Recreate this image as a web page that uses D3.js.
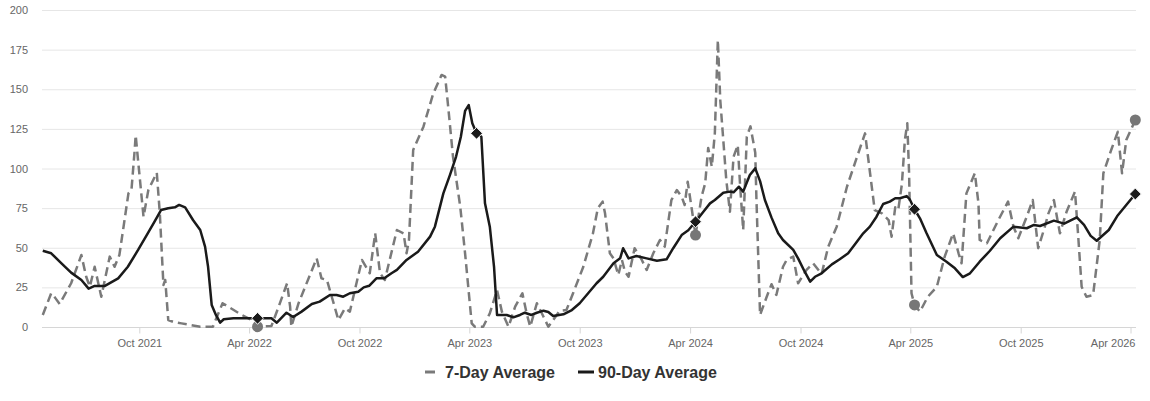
<!DOCTYPE html>
<html>
<head>
<meta charset="utf-8">
<script src="https://cdn.jsdelivr.net/npm/d3@7/dist/d3.min.js"></script>
<style>
  html, body { margin: 0; padding: 0; background: #fff; }
  svg { display: block; font-family: "Liberation Sans", Arial, Helvetica, sans-serif; }
</style>
</head>
<body>
<svg id="chart" width="1150" height="401"></svg>
<script>
// ---------------- DATA ----------------
const seriesNames = ["7-Day Average", "90-Day Average"];

const dates7 = [
  "2021-04-24","2021-05-08","2021-05-14","2021-05-22","2021-06-10","2021-06-27","2021-07-05","2021-07-11",
  "2021-07-19","2021-07-30","2021-08-13","2021-08-21","2021-08-29","2021-09-13","2021-09-18","2021-09-23",
  "2021-09-25","2021-09-29","2021-10-08","2021-10-16","2021-10-30","2021-11-04","2021-11-10","2021-11-13",
  "2021-11-18","2021-11-26","2021-12-10","2022-01-10","2022-01-31","2022-02-16","2022-03-20","2022-04-11",
  "2022-04-15","2022-05-08","2022-05-19","2022-06-03","2022-06-08","2022-06-10","2022-06-22","2022-07-22",
  "2022-07-30","2022-08-08","2022-08-16","2022-08-27","2022-09-07","2022-09-15","2022-10-05","2022-10-18",
  "2022-10-27","2022-11-04","2022-11-12","2022-12-02","2022-12-13","2022-12-18","2022-12-22","2022-12-29",
  "2023-01-15","2023-01-31","2023-02-14","2023-02-20","2023-02-25","2023-03-05","2023-03-17","2023-03-25",
  "2023-04-05","2023-04-10","2023-04-24","2023-05-05","2023-05-17","2023-05-25","2023-06-05","2023-06-16",
  "2023-06-28","2023-07-05","2023-07-11","2023-07-22","2023-08-02","2023-08-10","2023-08-18","2023-08-29",
  "2023-09-09","2023-09-20","2023-10-07","2023-10-23","2023-10-31","2023-11-08","2023-11-12","2023-11-20",
  "2023-11-26","2023-12-04","2023-12-10","2023-12-15","2023-12-21","2023-12-31","2024-01-12","2024-01-20",
  "2024-01-31","2024-02-11","2024-02-19","2024-03-01","2024-03-10","2024-03-18","2024-03-23","2024-03-28",
  "2024-04-04","2024-04-10","2024-04-20","2024-04-26","2024-05-01","2024-05-07","2024-05-12","2024-05-17",
  "2024-05-21","2024-05-26","2024-05-31","2024-06-06","2024-06-12","2024-06-19","2024-06-23","2024-06-28",
  "2024-07-04","2024-07-10","2024-07-18","2024-07-20","2024-07-26","2024-08-06","2024-08-14","2024-08-22",
  "2024-09-02","2024-09-08","2024-09-19","2024-09-27","2024-10-11","2024-10-22","2024-11-05","2024-11-16",
  "2024-11-30","2024-12-17","2025-01-01","2025-01-16","2025-02-01","2025-02-13","2025-02-24","2025-03-01",
  "2025-03-07","2025-03-12","2025-03-18","2025-03-23","2025-03-27","2025-03-30","2025-04-03","2025-04-08",
  "2025-04-17","2025-04-30","2025-05-15","2025-05-28","2025-06-11","2025-06-20","2025-06-25","2025-07-03",
  "2025-07-17","2025-07-23","2025-07-25","2025-08-06","2025-08-25","2025-09-10","2025-09-19","2025-09-27",
  "2025-10-11","2025-10-21","2025-10-30","2025-11-10","2025-11-16","2025-11-25","2025-12-05","2025-12-16",
  "2025-12-30","2026-01-04","2026-01-10","2026-01-18","2026-01-29","2026-02-09","2026-02-15","2026-02-28",
  "2026-03-11","2026-03-18","2026-03-25","2026-04-09"
];
const values7 = [
  7.6,21.3,18.7,14.5,27.6,45.4,31.7,25.4,
  38,19.1,44.4,38,45.4,84.3,86.4,110,
  121,105,69.6,86.4,97.4,71.7,26.5,29.7,
  4.4,3.3,2.3,0.2,0.2,15,7.6,3.3,
  0.2,0.6,11.8,27.6,12.8,0.2,15,43.3,
  30.7,29.7,19.1,4.4,11.8,9.7,42.3,33.9,
  59.1,33.9,29.7,61.2,59.1,46.5,54.9,111.7,
  126.4,147,159,157.9,139,107.4,75.9,46.5,
  2.3,0.2,0.2,8.6,23.3,9.7,0.2,12.8,
  21.3,8.6,0.2,15,6.5,0.2,4.4,10.3,
  10.7,21.3,38,59.1,74.9,79.1,71.7,46.5,
  43.3,32.8,42.3,34.9,31.7,49.7,42.3,36,
  46.5,54.9,50.7,80.1,86.4,82.2,77,91.7,
  73.8,58,82.2,90.6,113,101.1,122.2,181,
  143.2,118,92.7,72.7,107.4,114.8,88.5,61.2,
  120,126.6,110,80.1,7.6,19.1,27,20.2,
  38,42.3,44.4,27.6,36,40.2,33.4,50.7,
  63.3,88.5,105.4,122.2,73.8,71.7,67.5,57,
  75.5,73.8,90,118,128.5,97,21.3,13.9,
  9.7,19.1,25.4,44.4,59.1,46.5,40.2,84.3,
  97,78,54.9,52.8,67.5,79.1,63.3,56,
  69.6,80.1,49.7,63.3,71.7,80.1,59.1,72.7,
  85.4,59.1,25.4,19.1,20.2,54.9,97,111.7,
  123.2,97,118,130.6
];

const dates90 = [
  "2021-04-24","2021-05-08","2021-05-25","2021-06-10","2021-06-27","2021-07-09","2021-07-19","2021-08-05",
  "2021-08-27","2021-09-12","2021-09-29","2021-10-15","2021-10-26","2021-11-06","2021-11-18","2021-11-29",
  "2021-12-06","2021-12-16","2021-12-29","2022-01-10","2022-01-18","2022-01-23","2022-01-29","2022-02-05",
  "2022-02-12","2022-02-18","2022-03-06","2022-04-15","2022-05-08","2022-05-17","2022-06-02","2022-06-13",
  "2022-06-27","2022-07-14","2022-07-27","2022-08-13","2022-08-24","2022-09-04","2022-09-15","2022-09-29",
  "2022-10-08","2022-10-17","2022-10-29","2022-11-11","2022-11-23","2022-12-02","2022-12-18","2023-01-06",
  "2023-01-26","2023-02-03","2023-02-17","2023-02-28","2023-03-10","2023-03-18","2023-03-25","2023-03-31",
  "2023-04-06","2023-04-13","2023-04-21","2023-04-27","2023-05-05","2023-05-12","2023-05-17","2023-06-02",
  "2023-06-13","2023-06-24","2023-07-02","2023-07-13","2023-07-22","2023-08-02","2023-08-10","2023-08-18",
  "2023-09-04","2023-09-18","2023-10-01","2023-10-15","2023-10-29","2023-11-09","2023-11-26","2023-12-07",
  "2023-12-12","2023-12-21","2024-01-03","2024-01-20","2024-02-06","2024-02-22","2024-03-04","2024-03-18",
  "2024-03-29","2024-04-10","2024-04-23","2024-05-04","2024-05-12","2024-05-26","2024-06-06","2024-06-12",
  "2024-06-21","2024-06-28","2024-07-09","2024-07-18","2024-07-26","2024-08-03","2024-08-14","2024-08-25",
  "2024-09-02","2024-09-19","2024-09-27","2024-10-08","2024-10-17","2024-10-25","2024-11-05","2024-11-22",
  "2024-12-05","2024-12-19","2024-12-30","2025-01-13","2025-01-24","2025-02-04","2025-02-15","2025-02-26",
  "2025-03-07","2025-03-15","2025-03-26","2025-03-31","2025-04-08","2025-04-17","2025-04-28","2025-05-15",
  "2025-05-31","2025-06-14","2025-06-27","2025-07-09","2025-07-25","2025-08-11","2025-08-28","2025-09-19",
  "2025-10-11","2025-10-23","2025-11-02","2025-11-25","2025-12-12","2026-01-02","2026-01-14","2026-01-25",
  "2026-02-04","2026-02-24","2026-03-10","2026-03-26","2026-04-09"
];
const values90 = [
  48.1,46.5,40.2,34.3,29.7,24.2,25.9,25.9,
  30.7,38,48.6,59.1,66.4,73.8,74.9,75.5,
  77,75.5,67.5,61.2,50.7,38,13.9,7.6,
  2.7,4.9,5.5,5.5,5.5,2.7,9,6.3,
  9.7,14.5,16,20.2,20.2,19.1,21.3,22.3,
  25,26,30.7,30.7,33.9,36,42.3,47.5,
  57,63.3,84.3,96,107.4,120,136.3,140,
  128.5,122.2,120,78,63.3,38,7.6,7.6,
  6.1,7.6,9,7.6,9,10.3,9.5,6.9,
  8,10.7,15,21.3,27.6,31.7,40.2,43.3,
  49.7,43.3,44.8,43.3,41.8,42.7,49.7,58,
  61,66.4,72.7,78,80.1,84.7,85.4,85,
  88.5,85.4,95.9,100.1,92,80.1,69,59.1,
  54.9,48.6,43.3,34.9,28.6,31.7,33.9,39.5,
  42.7,46.5,52,59.1,63.3,69.6,77.6,79.1,
  81.2,81.2,82.6,80.6,74.3,68.6,59.1,45.4,
  41.2,37,31.5,33.9,41.2,48.1,56,63.3,
  62.3,64.4,63.7,67.1,65.2,69.2,64.5,57.5,
  54.4,61.2,70,77.5,83.9
];

// highlighted points (same dates each spring)
const markerDates7 = ["2022-04-15","2024-04-10","2025-04-08","2026-04-09"];
const markerDates90 = ["2022-04-15","2023-04-13","2024-04-10","2025-04-08","2026-04-09"];

const yTicks = [0, 25, 50, 75, 100, 125, 150, 175, 200];
const xTickDates = ["2021-10-01","2022-04-01","2022-10-01","2023-04-01","2023-10-01","2024-04-01","2024-10-01","2025-04-01","2025-10-01","2026-04-01"];
const xTickLabels = ["Oct 2021","Apr 2022","Oct 2022","Apr 2023","Oct 2023","Apr 2024","Oct 2024","Apr 2025","Oct 2025","Apr 2026"];

// ---------------- CHART ----------------
const parse = d3.utcParse("%Y-%m-%d");
const svg = d3.select("#chart");
const plotLeft = 42, plotRight = 1136, plotTop = 10, plotBottom = 327;

const x = d3.scaleUtc()
  .domain([parse("2021-10-01"), parse("2026-04-01")])
  .range([139.3, 1130.5]);
const y = d3.scaleLinear().domain([0, 200]).range([plotBottom, plotTop]);

// gridlines
svg.append("g").selectAll("line").data(yTicks.filter(d => d > 0)).join("line")
  .attr("x1", plotLeft).attr("x2", plotRight)
  .attr("y1", d => y(d) + 0.5).attr("y2", d => y(d) + 0.5)
  .attr("stroke", "#e6e6e6").attr("stroke-width", 1);

// y labels
svg.append("g").selectAll("text").data(yTicks).join("text")
  .attr("x", 28).attr("y", d => y(d) + 4)
  .attr("text-anchor", "end")
  .attr("font-size", 11).attr("fill", "#666")
  .text(d => d);

// x axis
const xAxis = d3.axisBottom(x)
  .tickValues(xTickDates.map(parse))
  .tickFormat((d, i) => xTickLabels[i])
  .tickSizeOuter(0).tickSize(6).tickPadding(6);
const gx = svg.append("g").attr("transform", `translate(0,${plotBottom + 0.5})`).call(xAxis);
gx.select(".domain").remove();
gx.append("line").attr("x1", plotLeft).attr("x2", plotRight).attr("y1", 0).attr("y2", 0)
  .attr("stroke", "#d6d6d6").attr("stroke-width", 1);
gx.selectAll(".tick line").attr("stroke", "#d6d6d6");
gx.selectAll(".tick text").attr("fill", "#666").attr("font-size", 11)
  .attr("font-family", "'Liberation Sans', Arial, sans-serif");
// keep the last label inside the plot's right edge
const lastTick = xTickDates[xTickDates.length - 1];
gx.selectAll(".tick").filter(d => +d === +parse(lastTick)).select("text")
  .attr("text-anchor", "end")
  .attr("x", d => plotRight - x(d) - 1);

// series
const s7 = dates7.map((d, i) => ({ date: parse(d), value: values7[i] }));
const s90 = dates90.map((d, i) => ({ date: parse(d), value: values90[i] }));

const line = d3.line().x(d => x(d.date)).y(d => y(d.value)).curve(d3.curveLinear);

svg.append("path").datum(s7)
  .attr("d", line).attr("fill", "none")
  .attr("stroke", "#7a7a7a").attr("stroke-width", 2.5)
  .attr("stroke-dasharray", "9,5").attr("stroke-linejoin", "round");

svg.append("path").datum(s90)
  .attr("d", line).attr("fill", "none")
  .attr("stroke", "#1a1a1a").attr("stroke-width", 2.5)
  .attr("stroke-linejoin", "round");

// markers
const m7 = markerDates7.map(d => s7.find(p => +p.date === +parse(d)));
const m90 = markerDates90.map(d => s90.find(p => +p.date === +parse(d)));

svg.append("g").selectAll("circle").data(m7).join("circle")
  .attr("cx", d => x(d.date)).attr("cy", d => y(d.value))
  .attr("r", 5.5).attr("fill", "#777");

const diamond = d3.symbol().type(d3.symbolDiamond2).size(90);
svg.append("g").selectAll("path").data(m90).join("path")
  .attr("transform", d => `translate(${x(d.date)},${y(d.value)})`)
  .attr("d", diamond)
  .attr("fill", "#1a1a1a").attr("stroke", "#fff").attr("stroke-width", 1);

// legend
const lg = svg.append("g").attr("font-size", 16).attr("font-weight", "bold").attr("fill", "#333");
lg.append("line").attr("x1", 425).attr("x2", 435).attr("y1", 372).attr("y2", 372)
  .attr("stroke", "#7a7a7a").attr("stroke-width", 3);
lg.append("text").attr("x", 445).attr("y", 378).text(seriesNames[0]);
lg.append("line").attr("x1", 578).attr("x2", 594).attr("y1", 372).attr("y2", 372)
  .attr("stroke", "#1a1a1a").attr("stroke-width", 3);
lg.append("text").attr("x", 598).attr("y", 378).text(seriesNames[1]);
</script>
</body>
</html>
